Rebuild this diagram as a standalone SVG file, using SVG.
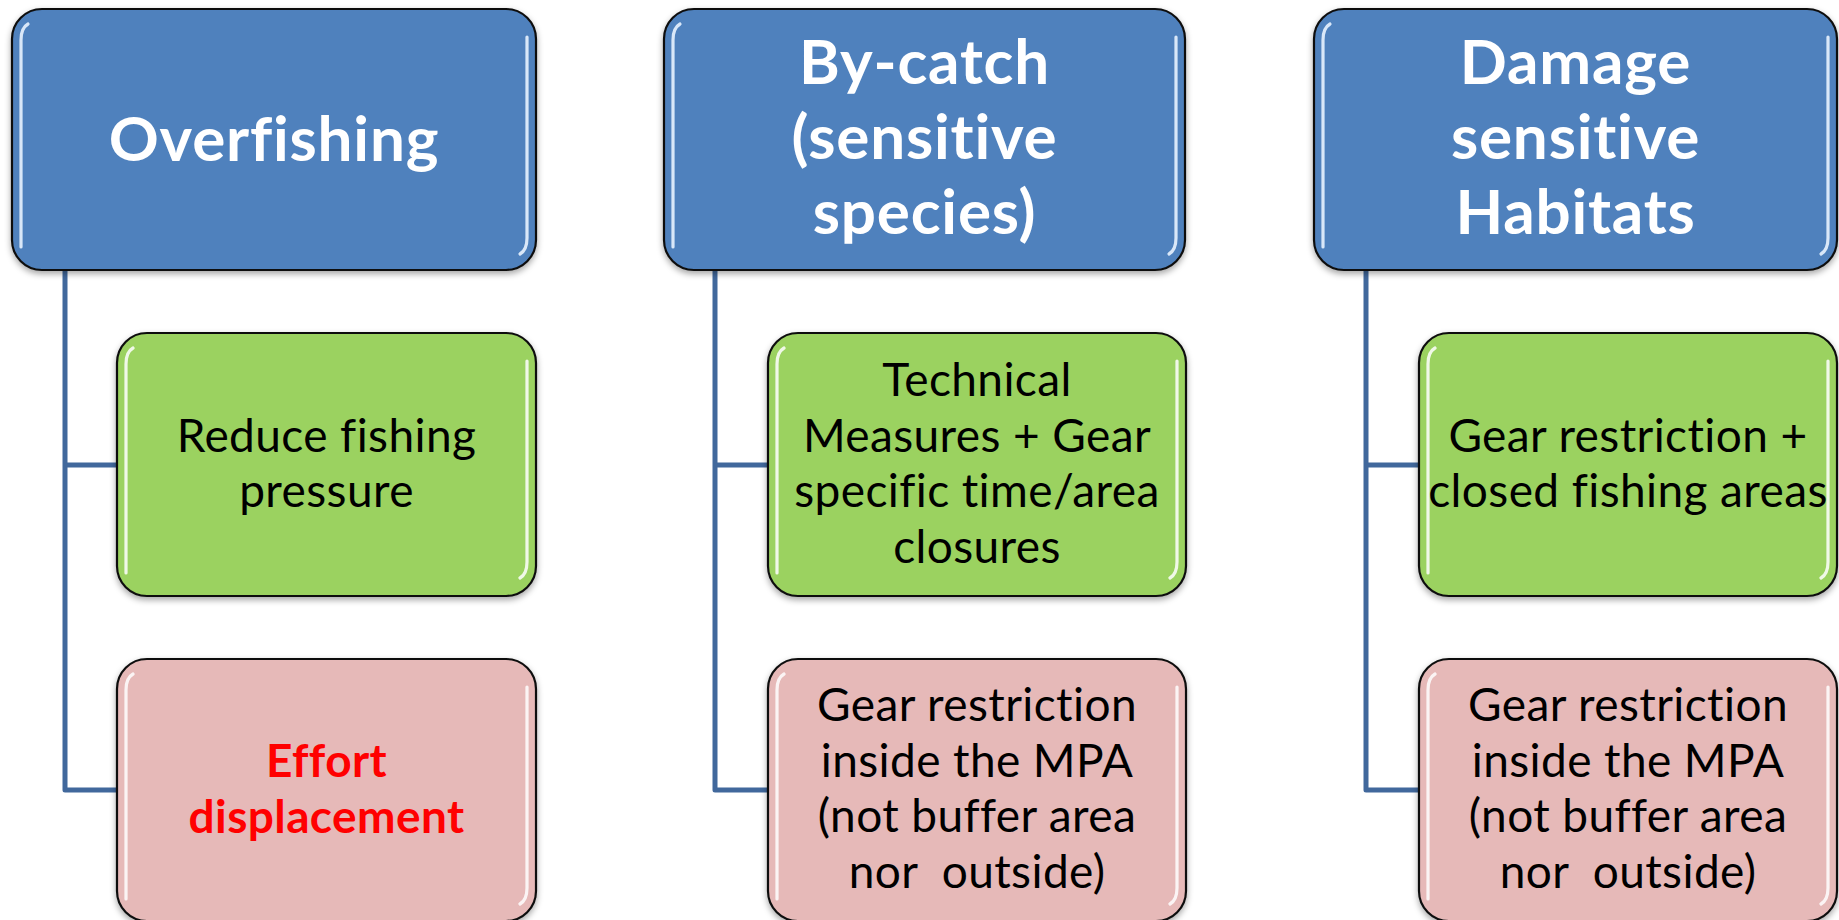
<svg xmlns="http://www.w3.org/2000/svg" width="1839" height="920" viewBox="0 0 1839 920">
  <style>
    text { font-variant-ligatures: none; font-feature-settings: "liga" 0; }
    .box { stroke: #111; stroke-width: 2.2; filter: url(#shadow); }
    .blue { fill: #4F81BD; }
    .green { fill: #9BD260; }
    .pink { fill: #E6B9B8; }
    .gloss { fill: none; stroke: #fff; stroke-width: 3.2; stroke-linecap: round; opacity: 0.85; filter: url(#soft); }
    .glossb { fill: none; stroke: #e8f3ff; stroke-width: 3.2; stroke-linecap: round; opacity: 0.9; filter: url(#soft); }
    .head { font-family: Lato, "Open Sans", "Liberation Sans", sans-serif; font-weight: 700; font-size: 62px; letter-spacing: 0.8px; fill: #fff; text-anchor: middle; }
    .body { font-family: Lato, "Open Sans", "Liberation Sans", sans-serif; font-size: 46px; letter-spacing: 0.4px; fill: #000; text-anchor: middle; }
    .alert { font-family: Lato, "Open Sans", "Liberation Sans", sans-serif; font-weight: 700; font-size: 46px; letter-spacing: 0.4px; fill: #FF0000; text-anchor: middle; }
    .link { fill: none; stroke: #41689C; stroke-width: 5; stroke-linejoin: round; }
  </style>
  <defs>
    <filter id="shadow" x="-5%" y="-5%" width="110%" height="115%">
      <feDropShadow dx="0" dy="3" stdDeviation="3" flood-color="#000" flood-opacity="0.35"/>
    </filter>
    <filter id="soft" x="-50%" y="-5%" width="200%" height="110%">
      <feGaussianBlur stdDeviation="0.6"/>
    </filter>
  </defs>

  <rect width="1839" height="920" fill="#fff"/>

  <!-- connectors -->
  <g id="connectors">
    <path class="link" d="M65 270 V790 H117 M65 465 H117"/>
    <path class="link" d="M715 270 V790 H768 M715 465 H768"/>
    <path class="link" d="M1366 270 V790 H1419 M1366 465 H1419"/>
  </g>

  <!-- column 1 -->
  <g id="overfishing">
    <rect class="box blue" x="12" y="9" width="524" height="261" rx="30"/>
    <path class="glossb" d="M28 24 Q21 28 21 40 V247"/>
    <path class="glossb" d="M527 37 V238 Q527 250 520 254"/>
    <text class="head" x="274" y="161">Overfishing</text>
  </g>
  <g id="reduce-pressure">
    <rect class="box green" x="117" y="333" width="419" height="263" rx="30"/>
    <path class="gloss" d="M133 348 Q126 352 126 364 V573"/>
    <path class="gloss" d="M527 361 V562 Q527 574 520 578"/>
    <text class="body" x="326.5" y="452">Reduce fishing</text>
    <text class="body" x="326.5" y="507">pressure</text>
  </g>
  <g id="effort-displacement">
    <rect class="box pink" x="117" y="659" width="419" height="262" rx="30"/>
    <path class="gloss" d="M133 674 Q126 678 126 690 V899"/>
    <path class="gloss" d="M527 687 V888 Q527 900 520 904"/>
    <text class="alert" x="326.5" y="777">Effort</text>
    <text class="alert" x="326.5" y="833">displacement</text>
  </g>

  <!-- column 2 -->
  <g id="bycatch">
    <rect class="box blue" x="664" y="9" width="521" height="261" rx="30"/>
    <path class="glossb" d="M680 24 Q673 28 673 40 V247"/>
    <path class="glossb" d="M1176 37 V238 Q1176 250 1169 254"/>
    <text class="head" x="924.5" y="84">By-catch</text>
    <text class="head" x="924.5" y="159">(sensitive</text>
    <text class="head" x="924.5" y="234">species)</text>
  </g>
  <g id="technical-measures">
    <rect class="box green" x="768" y="333" width="418" height="263" rx="30"/>
    <path class="gloss" d="M784 348 Q777 352 777 364 V573"/>
    <path class="gloss" d="M1177 361 V562 Q1177 574 1170 578"/>
    <text class="body" x="977" y="396">Technical</text>
    <text class="body" x="977" y="451.5">Measures + Gear</text>
    <text class="body" x="977" y="507">specific time/area</text>
    <text class="body" x="977" y="562.5">closures</text>
  </g>
  <g id="gear-restriction-mpa-1">
    <rect class="box pink" x="768" y="659" width="418" height="262" rx="30"/>
    <path class="gloss" d="M784 674 Q777 678 777 690 V899"/>
    <path class="gloss" d="M1177 687 V888 Q1177 900 1170 904"/>
    <text class="body" x="977" y="721">Gear restriction</text>
    <text class="body" x="977" y="777">inside the MPA</text>
    <text class="body" x="977" y="832">(not buffer area</text>
    <text class="body" x="977" y="888" xml:space="preserve">nor  outside)</text>
  </g>

  <!-- column 3 -->
  <g id="habitats">
    <rect class="box blue" x="1314" y="9" width="523" height="261" rx="30"/>
    <path class="glossb" d="M1330 24 Q1323 28 1323 40 V247"/>
    <path class="glossb" d="M1828 37 V238 Q1828 250 1821 254"/>
    <text class="head" x="1575.5" y="84">Damage</text>
    <text class="head" x="1575.5" y="159">sensitive</text>
    <text class="head" x="1575.5" y="234">Habitats</text>
  </g>
  <g id="gear-closed-areas">
    <rect class="box green" x="1419" y="333" width="418" height="263" rx="30"/>
    <path class="gloss" d="M1435 348 Q1428 352 1428 364 V573"/>
    <path class="gloss" d="M1828 361 V562 Q1828 574 1821 578"/>
    <text class="body" x="1628" y="452">Gear restriction +</text>
    <text class="body" x="1628" y="507">closed fishing areas</text>
  </g>
  <g id="gear-restriction-mpa-2">
    <rect class="box pink" x="1419" y="659" width="418" height="262" rx="30"/>
    <path class="gloss" d="M1435 674 Q1428 678 1428 690 V899"/>
    <path class="gloss" d="M1828 687 V888 Q1828 900 1821 904"/>
    <text class="body" x="1628" y="721">Gear restriction</text>
    <text class="body" x="1628" y="777">inside the MPA</text>
    <text class="body" x="1628" y="832">(not buffer area</text>
    <text class="body" x="1628" y="888" xml:space="preserve">nor  outside)</text>
  </g>
</svg>
